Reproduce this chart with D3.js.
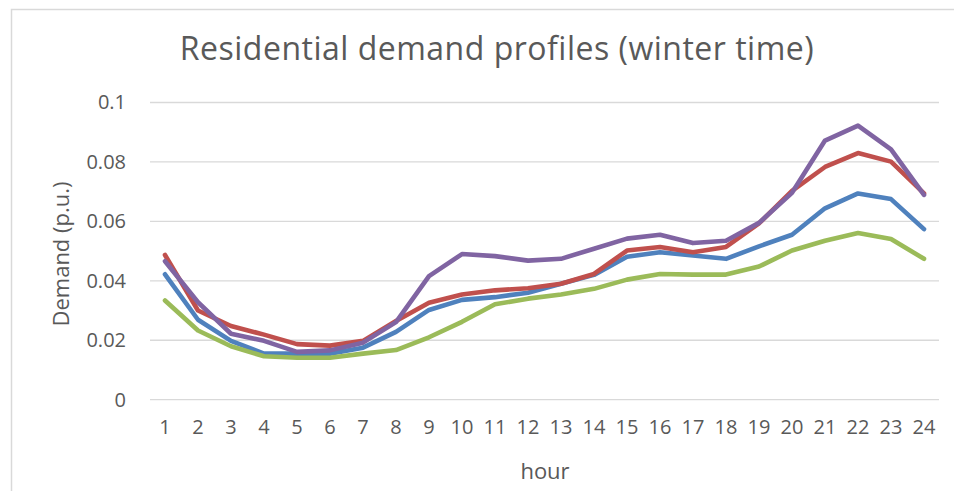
<!DOCTYPE html>
<html>
<head>
<meta charset="utf-8">
<script src="https://cdn.jsdelivr.net/npm/d3@7"></script>
<style>
  body { margin: 0; background: #fff; }
  text { font-family: "Open Sans", sans-serif; fill: #595959; }
</style>
</head>
<body>
<svg id="chart" width="954" height="491"></svg>
<script>
const hours = d3.range(1, 25).map(String);
const seriesNames = ["Profile 1", "Profile 2", "Profile 3", "Profile 4"];

const blueVals = [0.0422, 0.0269, 0.0198, 0.0155, 0.0155, 0.0155, 0.0175, 0.0228, 0.0302, 0.0336, 0.0345, 0.0360,
  0.0390, 0.0420, 0.0481, 0.0496, 0.0485, 0.0474, 0.0516, 0.0555, 0.0644, 0.0694, 0.0675, 0.0574];
const redVals = [0.0487, 0.0300, 0.0248, 0.0219, 0.0187, 0.0182, 0.0198, 0.0265, 0.0326, 0.0354, 0.0368, 0.0375,
  0.0390, 0.0423, 0.0502, 0.0514, 0.0496, 0.0514, 0.0593, 0.0703, 0.0783, 0.0830, 0.0801, 0.0694];
const greenVals = [0.0334, 0.0233, 0.0180, 0.0146, 0.0141, 0.0141, 0.0155, 0.0167, 0.0210, 0.0262, 0.0321, 0.0340,
  0.0354, 0.0373, 0.0404, 0.0423, 0.0421, 0.0421, 0.0448, 0.0502, 0.0535, 0.0561, 0.0541, 0.0474];
const purpleVals = [0.0466, 0.0328, 0.0222, 0.0198, 0.0161, 0.0166, 0.0192, 0.0261, 0.0416, 0.0490, 0.0483, 0.0468,
  0.0474, 0.0508, 0.0542, 0.0555, 0.0527, 0.0535, 0.0595, 0.0696, 0.0872, 0.0922, 0.0842, 0.0689];

const yTicks = [0, 0.02, 0.04, 0.06, 0.08, 0.1];
const colors = ["#4f81bd", "#c0504d", "#9bbb59", "#8064a2"];

const series = [blueVals, redVals, greenVals, purpleVals].map((vals, i) => ({
  name: seriesNames[i], color: colors[i], values: vals
}));

const svg = d3.select("#chart");

// chart frame
svg.append("rect")
  .attr("x", 11.5).attr("y", 9.5).attr("width", 960).attr("height", 500)
  .attr("fill", "none").attr("stroke", "#d9d9d9").attr("stroke-width", 1.5);

const x = d3.scaleBand().domain(hours).range([148.5, 940.5]);
const y = d3.scaleLinear().domain([0, 0.1]).range([399.7, 102.5]);

// gridlines
svg.append("g")
  .selectAll("line")
  .data(yTicks)
  .join("line")
  .attr("x1", 150).attr("x2", 939)
  .attr("y1", d => y(d)).attr("y2", d => y(d))
  .attr("stroke", "#d9d9d9").attr("stroke-width", 1.3);

// y axis labels
const yAxis = d3.axisLeft(y).tickValues(yTicks).tickSize(0).tickPadding(0)
  .tickFormat(d => d === 0 ? "0" : String(+d.toFixed(2)));
svg.append("g")
  .attr("transform", "translate(126,0)")
  .call(yAxis)
  .call(g => g.select(".domain").remove())
  .call(g => g.selectAll("text").attr("font-size", 20).attr("fill", "#595959")
    .attr("font-family", "Open Sans, sans-serif"));

// x axis labels
const xAxis = d3.axisBottom(x).tickSize(0).tickPadding(0);
svg.append("g")
  .attr("transform", "translate(0,420)")
  .call(xAxis)
  .call(g => g.select(".domain").remove())
  .call(g => g.selectAll("text").attr("font-size", 20).attr("fill", "#595959")
    .attr("font-family", "Open Sans, sans-serif"));

const line = d3.line()
  .x((d, i) => x(hours[i]) + x.bandwidth() / 2)
  .y(d => y(d));

svg.append("g")
  .selectAll("path")
  .data(series)
  .join("path")
  .attr("d", d => line(d.values))
  .attr("fill", "none")
  .attr("stroke", d => d.color)
  .attr("stroke-width", 4.6)
  .attr("stroke-linejoin", "round")
  .attr("stroke-linecap", "round");

// title
svg.append("text")
  .attr("x", 497).attr("y", 60)
  .attr("text-anchor", "middle")
  .attr("font-size", 32)
  .attr("letter-spacing", 0.5)
  .text("Residential demand profiles (winter time)");

// axis titles
svg.append("text")
  .attr("transform", "translate(69,254) rotate(-90)")
  .attr("text-anchor", "middle")
  .attr("font-size", 22)
  .text("Demand (p.u.)");

svg.append("text")
  .attr("x", 545).attr("y", 479)
  .attr("text-anchor", "middle")
  .attr("font-size", 22)
  .text("hour");
</script>
</body>
</html>
